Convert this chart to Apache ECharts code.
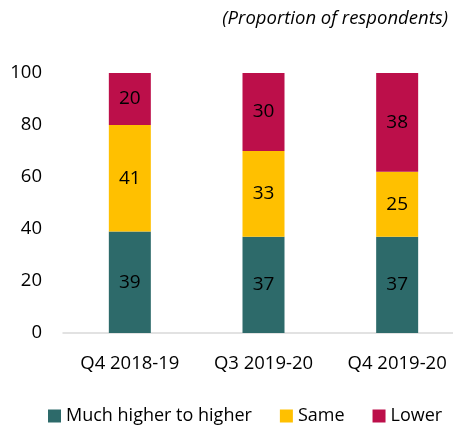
<!DOCTYPE html>
<html>
<head>
<meta charset="utf-8">
<script src="https://cdn.jsdelivr.net/npm/echarts@6/dist/echarts.min.js"></script>
<style>
  html, body { margin: 0; padding: 0; background: #fff; overflow: hidden; }
  /* the plot area runs past the right edge of the picture, so the canvas is a bit wider */
  #chart { width: 466px; height: 425px; }
</style>
</head>
<body>
<div id="chart"></div>
<script>
// data
const quarters = ['Q4 2018-19', 'Q3 2019-20', 'Q4 2019-20']
const higher   = [39, 37, 37]
const same     = [41, 33, 25]
const lower    = [20, 30, 38]
const yTicks   = [0, 20, 40, 60, 80, 100]

const FONT = 'Open Sans'

function barSeries(name, data, color) {
  return {
    name, type: 'bar', stack: 'total', data,
    barWidth: 42,
    itemStyle: { color },
    label: { show: true, position: 'inside', color: '#000', fontSize: 19, fontFamily: FONT },
  }
}

const chart = echarts.init(document.getElementById('chart'), null, { renderer: 'canvas' })
chart.setOption({
  animation: false,
  textStyle: { fontFamily: FONT },
  title: {
    text: '(Proportion of respondents)',
    right: 13, top: 4,
    textStyle: { fontSize: 18.5, fontStyle: 'italic', fontWeight: 'normal', color: '#000', fontFamily: FONT },
  },
  legend: {
    top: 402, left: 43,
    itemWidth: 13, itemHeight: 13, itemGap: 28,
    icon: 'rect',
    textStyle: { fontSize: 18, color: '#000', fontFamily: FONT },
    data: ['Much higher to higher', 'Same', 'Lower'],
  },
  grid: { left: 63, right: 2, top: 73, bottom: 92, containLabel: false },
  xAxis: {
    type: 'category', data: quarters,
    axisLine: { lineStyle: { color: '#D9D9D9', width: 1.5 } },
    axisTick: { show: false },
    axisLabel: { fontSize: 18.5, color: '#000', margin: 21, fontFamily: FONT },
  },
  yAxis: {
    type: 'value', min: yTicks[0], max: yTicks[yTicks.length - 1], interval: 20,
    splitLine: { show: false },
    axisLine: { show: false },
    axisTick: { show: false },
    axisLabel: { fontSize: 18.5, color: '#000', margin: 21, fontFamily: FONT },
  },
  series: [
    barSeries('Much higher to higher', higher, '#2D6A6A'),
    barSeries('Same', same, '#FFC000'),
    barSeries('Lower', lower, '#BC0F4A'),
  ],
})
</script>
</body>
</html>
